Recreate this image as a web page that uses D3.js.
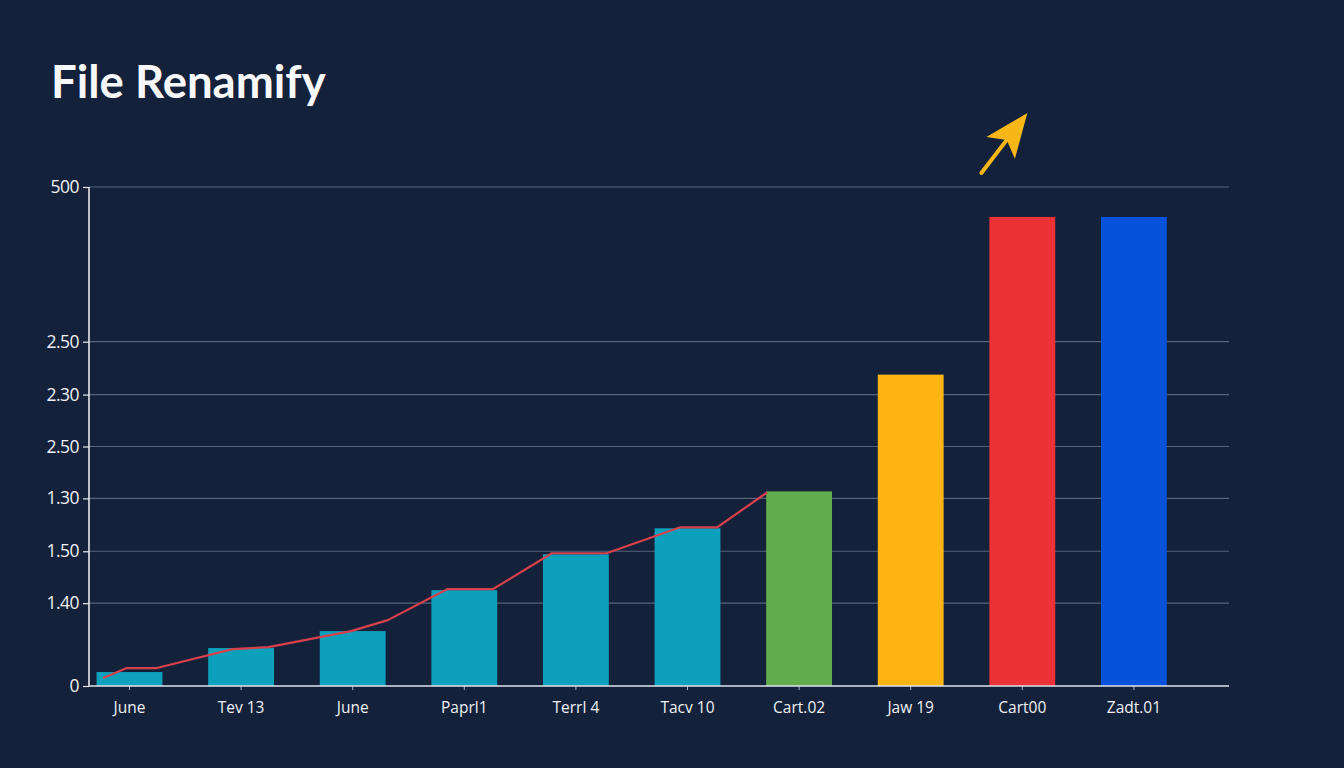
<!DOCTYPE html>
<html>
<head>
<meta charset="utf-8">
<script src="https://cdn.jsdelivr.net/npm/d3@7"></script>
<style>
  html, body { margin: 0; padding: 0; background: #14213a; }
  svg { display: block; }
</style>
</head>
<body>
<svg id="chart" width="1344" height="768"></svg>
<script>
// ---- data ----
const title = "File Renamify";
const categories = ["June", "Tev 13", "June", "Paprl1", "Terrl 4", "Tacv 10", "Cart.02", "Jaw 19", "Cart00", "Zadt.01"];
const barValues = [14, 38, 55, 96, 132, 158, 195, 312, 470, 470];
const barColors = ["#0ba1bd", "#0ba1bd", "#0ba1bd", "#0ba1bd", "#0ba1bd", "#0ba1bd", "#63ad4e", "#fdb515", "#ec3237", "#0652db"];
const yTickValues = [0, 83, 135, 188, 240, 292, 345, 500];
const yTickLabels = ["0", "1.40", "1.50", "1.30", "2.50", "2.30", "2.50", "500"];
// trend line: position in category-slot units (0 = left edge of first bar), value
const linePos = [0.06, 0.27, 0.54, 1.22, 1.54, 2.28, 2.61, 3.14, 3.55, 4.08, 4.57, 5.23, 5.56, 6.01];
const lineValues = [8, 18, 18, 37, 39, 55, 66, 97, 97, 133, 133, 159, 159, 194];

// ---- layout ----
const svg = d3.select("#chart");
const W = 1344, H = 768;
const plot = { left: 89, right: 1229, top: 187, bottom: 686 };

svg.append("rect").attr("width", W).attr("height", H).attr("fill", "#14213a");

const n = categories.length;
const idx = d3.range(n);
const x = d3.scaleBand().domain(idx).range([73.7, 1189.7]).paddingInner(0.41).paddingOuter(0.205);
const xLine = d3.scaleLinear().domain([0, n]).range([x(0), x(0) + n * x.step()]);
const y = d3.scaleLinear().domain([0, 500]).range([plot.bottom, plot.top]);

// title
svg.append("text")
  .attr("x", 51).attr("y", 98)
  .attr("fill", "#f7f8fa")
  .style("font-family", "Lato, 'Open Sans', sans-serif")
  .style("font-weight", 700)
  .style("font-size", "45.5px")
  .text(title);

// gridlines
svg.append("g").selectAll("line")
  .data(yTickValues.filter(v => v > 0))
  .join("line")
  .attr("x1", plot.left).attr("x2", plot.right)
  .attr("y1", d => y(d)).attr("y2", d => y(d))
  .attr("stroke", "#55647a").attr("stroke-width", 1.2);

// bars
svg.append("g").selectAll("rect")
  .data(barValues)
  .join("rect")
  .attr("x", (d, i) => x(i))
  .attr("width", x.bandwidth())
  .attr("y", d => y(d))
  .attr("height", d => y(0) - y(d))
  .attr("fill", (d, i) => barColors[i]);

// trend line
const pts = linePos.map((p, i) => [xLine(p), y(lineValues[i])]);
svg.append("path")
  .attr("d", d3.line()(pts))
  .attr("fill", "none")
  .attr("stroke", "#d8404b")
  .attr("stroke-width", 2.2)
  .attr("stroke-linejoin", "round");

// y axis
const yAxis = d3.axisLeft(y)
  .tickValues(yTickValues)
  .tickFormat((d, i) => yTickLabels[i])
  .tickSize(6).tickPadding(4);
const gy = svg.append("g").attr("transform", `translate(${plot.left},0)`).call(yAxis);
gy.select(".domain").remove();
gy.selectAll(".tick line").attr("stroke", "#e6eaf0").attr("stroke-width", 1.2);
gy.selectAll(".tick text")
  .attr("fill", "#eef1f5")
  .style("font-family", "'Open Sans', sans-serif")
  .style("font-size", "17.5px")
  .style("letter-spacing", "-0.5px");
svg.append("line")
  .attr("x1", plot.left).attr("x2", plot.left)
  .attr("y1", plot.top).attr("y2", plot.bottom)
  .attr("stroke", "#e6eaf0").attr("stroke-width", 1.6);

// x axis
const xAxis = d3.axisBottom(x)
  .tickFormat(i => categories[i])
  .tickSize(4).tickPadding(12);
const gx = svg.append("g").attr("transform", `translate(0,${plot.bottom})`).call(xAxis);
gx.select(".domain").remove();
gx.selectAll(".tick line").attr("stroke", "#aab4c2").attr("stroke-width", 1);
gx.selectAll(".tick text")
  .attr("fill", "#eef1f5")
  .style("font-family", "'Open Sans', sans-serif")
  .style("font-size", "15.5px");
svg.append("line")
  .attr("x1", plot.left).attr("x2", plot.right)
  .attr("y1", plot.bottom).attr("y2", plot.bottom)
  .attr("stroke", "#dfe5ee").attr("stroke-width", 1.6);

// annotation arrow above the tallest bar
const tail = [x(8) - 8, y(500) - 14];
const tip = [x(8) + 38, y(500) - 74];
const ang = Math.atan2(tip[1] - tail[1], tip[0] - tail[0]);
const headLen = 44, headW = 18, notch = 10;
const ux = Math.cos(ang), uy = Math.sin(ang);
const base = [tip[0] - headLen * ux, tip[1] - headLen * uy];
const nx = -uy, ny = ux;
const notchPt = [base[0] + notch * ux, base[1] + notch * uy];
svg.append("line")
  .attr("x1", tail[0]).attr("y1", tail[1])
  .attr("x2", notchPt[0] + 2 * ux).attr("y2", notchPt[1] + 2 * uy)
  .attr("stroke", "#f8b719").attr("stroke-width", 4).attr("stroke-linecap", "round");
svg.append("path")
  .attr("d", d3.line()([tip, [base[0] + headW * nx, base[1] + headW * ny], notchPt, [base[0] - headW * nx, base[1] - headW * ny]]) + "Z")
  .attr("fill", "#f8b719");
</script>
</body>
</html>
